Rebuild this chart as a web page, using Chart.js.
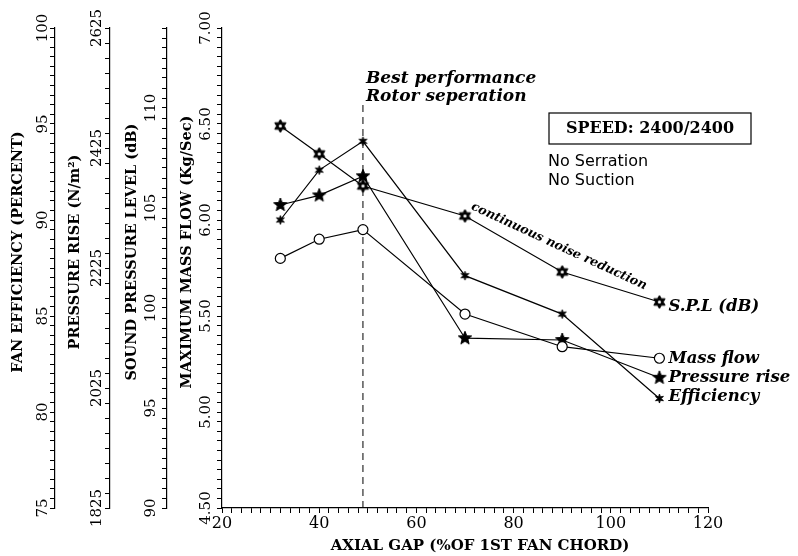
<!DOCTYPE html>
<html>
<head>
<meta charset="utf-8">
<script src="https://cdn.jsdelivr.net/npm/chart.js@4.4.0/dist/chart.umd.min.js"></script>
<style>
  body { margin: 0; background: #fff; }
</style>
</head>
<body>
<canvas id="myChart" width="798" height="556"></canvas>
<script>
// valores
const axialGap = [32, 40, 49, 70, 90, 110];
const splValues = [109.1, 107.7, 106.1, 104.6, 101.8, 100.3];
const massFlowValues = [5.80, 5.90, 5.95, 5.51, 5.34, 5.28];
const pressureValues = [2330, 2346, 2378, 2108, 2105, 2042];
const efficiencyValues = [90.0, 92.6, 94.1, 87.1, 85.1, 80.7];

// etiquetas de los ejes
const xTickLabels = [20, 40, 60, 80, 100, 120];
const effTickLabels = ['75', '80', '85', '90', '95', '100'];
const pressTickLabels = ['1825', '2025', '2225', '2425', '2625'];
const splTickLabels = ['90', '95', '100', '105', '110'];
const massTickLabels = ['4.50', '5.00', '5.50', '6.00', '6.50', '7.00'];

const seriesNames = ['S.P.L (dB)', 'Mass flow', 'Pressure rise', 'Efficiency'];
const bestGap = 49;

const serif = '"DejaVu Serif", serif';

// marcadores dibujados en un canvas pequeño
const makeStar = (points, outer, inner, hole) => {
    const size = Math.ceil(outer * 2 + 4);
    const c = document.createElement('canvas');
    c.width = size;
    c.height = size;
    const g = c.getContext('2d');
    g.translate(size / 2, size / 2);
    g.beginPath();
    for (let i = 0; i < points * 2; i++) {
        const r = i % 2 === 0 ? outer : inner;
        const a = -Math.PI / 2 + i * Math.PI / points;
        g.lineTo(r * Math.cos(a), r * Math.sin(a));
    }
    g.closePath();
    g.fillStyle = '#000';
    g.fill();
    g.lineWidth = 1;
    g.strokeStyle = '#000';
    g.stroke();
    if (hole) {
        g.beginPath();
        g.arc(0, 0, hole, 0, Math.PI * 2);
        g.fillStyle = '#fff';
        g.fill();
    }
    return c;
};

const splMarker = makeStar(6, 6.5, 3.8, 1.6);
const pressMarker = makeStar(5, 7, 3, 0);
const effMarker = makeStar(6, 4.5, 1.8, 0);

const serie = (label, values, axis, style) => ({
    label: label,
    data: axialGap.map((g, i) => ({ x: g, y: values[i] })),
    yAxisID: axis,
    borderColor: '#000',
    borderWidth: 1.2,
    pointStyle: style,
    pointRadius: 5,
    pointBackgroundColor: '#fff',
    pointBorderColor: '#000',
    pointBorderWidth: 1.2,
    tension: 0
});

const yAxis = (min, max, step, width) => ({
    type: 'linear',
    position: 'left',
    min: min,
    max: max,
    ticks: { display: false, stepSize: step },
    grid: { drawOnChartArea: false, tickLength: 5, color: '#000', tickWidth: 1 },
    border: { color: '#000', width: 1.2 },
    afterFit: s => { s.width = width; }
});

// textos, titulos y etiquetas rotadas
const drawTexts = {
    id: 'drawTexts',
    afterDraw(chart) {
        const c = chart.ctx;
        const s = chart.scales;
        c.save();
        c.fillStyle = '#000';
        c.strokeStyle = '#000';

        const yAxes = [
            [s.yEff, effTickLabels, 12, 'FAN EFFICIENCY (PERCENT)', 18],
            [s.yPress, pressTickLabels, 13, 'PRESSURE RISE (N/m²)', 20],
            [s.ySpl, splTickLabels, 16, 'SOUND PRESSURE LEVEL (dB)', 22],
            [s.yMass, massTickLabels, 16, 'MAXIMUM MASS FLOW (Kg/Sec)', 20]
        ];
        c.textAlign = 'center';
        c.textBaseline = 'middle';
        yAxes.forEach(([scale, labels, off, title, tOff]) => {
            c.font = '15px ' + serif;
            labels.forEach(v => {
                const y = scale.getPixelForValue(Number(v));
                c.save();
                c.translate(scale.right - off, y);
                c.rotate(-Math.PI / 2);
                c.fillText(v, 0, 0);
                c.restore();
            });
            c.font = 'bold 14.5px ' + serif;
            c.save();
            c.translate(scale.left + tOff, (scale.top + scale.bottom) / 2 - 16);
            c.rotate(-Math.PI / 2);
            c.fillText(title, 0, 0);
            c.restore();
        });

        // titulo eje x
        c.font = 'bold 15px ' + serif;
        c.fillText('AXIAL GAP (%OF 1ST FAN CHORD)', (s.x.left + s.x.right) / 2 + 15, 546);

        // nombres al final de cada serie
        c.font = 'italic bold 16.5px ' + serif;
        c.textAlign = 'left';
        const dy = [5, 0, 0, -2];
        seriesNames.forEach((name, i) => {
            const pts = chart.getDatasetMeta(i).data;
            const p = pts[pts.length - 1];
            c.fillText(name, p.x + 9, p.y + dy[i]);
        });

        // mejor separacion
        const bx = s.x.getPixelForValue(bestGap) + 3;
        c.font = 'italic bold 17px ' + serif;
        c.fillText('Best performance', bx, 79);
        c.fillText('Rotor seperation', bx, 97);

        // texto inclinado sobre la curva SPL
        const x1 = s.x.getPixelForValue(71.4), y1 = s.ySpl.getPixelForValue(105.1);
        const x2 = s.x.getPixelForValue(107.4), y2 = s.ySpl.getPixelForValue(101.05);
        c.save();
        c.translate(x1, y1);
        c.rotate(Math.atan2(y2 - y1, x2 - x1));
        c.font = 'italic bold 12.5px ' + serif;
        c.fillText('continuous noise reduction', 0, 0);
        c.restore();

        // recuadro de velocidad
        c.lineWidth = 1.2;
        c.strokeRect(549, 113, 202, 31);
        c.font = 'bold 16px ' + serif;
        c.textAlign = 'center';
        c.fillText('SPEED: 2400/2400', 650, 129);

        c.font = '16px "DejaVu Sans", sans-serif';
        c.textAlign = 'left';
        c.fillText('No Serration', 548, 162);
        c.fillText('No Suction', 548, 181);
        c.restore();
    }
};

const ctx = document.getElementById('myChart');

new Chart(ctx, {
    type: 'line',
    data: {
        datasets: [
            serie(seriesNames[0], splValues, 'ySpl', splMarker),
            serie(seriesNames[1], massFlowValues, 'yMass', 'circle'),
            serie(seriesNames[2], pressureValues, 'yPress', pressMarker),
            serie(seriesNames[3], efficiencyValues, 'yEff', effMarker),
            {
                label: 'best',
                data: [{ x: bestGap, y: 4.5 }, { x: bestGap, y: 6.6 }],
                yAxisID: 'yMass',
                borderColor: '#000',
                borderWidth: 1,
                borderDash: [7, 5],
                pointRadius: 0
            }
        ]
    },
    options: {
        responsive: false,
        animation: false,
        layout: { padding: { left: 0, top: 28, right: 90, bottom: 0 } },
        plugins: {
            legend: { display: false },
            tooltip: { enabled: false }
        },
        scales: {
            x: {
                type: 'linear',
                position: 'bottom',
                min: 20,
                max: 120,
                ticks: {
                    stepSize: 2,
                    autoSkip: false,
                    maxRotation: 0,
                    padding: 1,
                    color: '#000',
                    font: { family: serif, size: 16 },
                    callback: v => xTickLabels.includes(v) ? String(v) : ''
                },
                grid: { drawOnChartArea: false, tickLength: 5, color: '#000' },
                border: { color: '#000', width: 1.2 },
                afterFit: s => { s.height = 48; }
            },
            yMass: yAxis(4.5, 7, 0.05, 55),
            ySpl: yAxis(90, 114, 0.5, 57),
            yPress: yAxis(1825, 2625, 25, 55),
            yEff: yAxis(75, 100, 0.5, 55)
        }
    },
    plugins: [drawTexts]
});
</script>
</body>
</html>
